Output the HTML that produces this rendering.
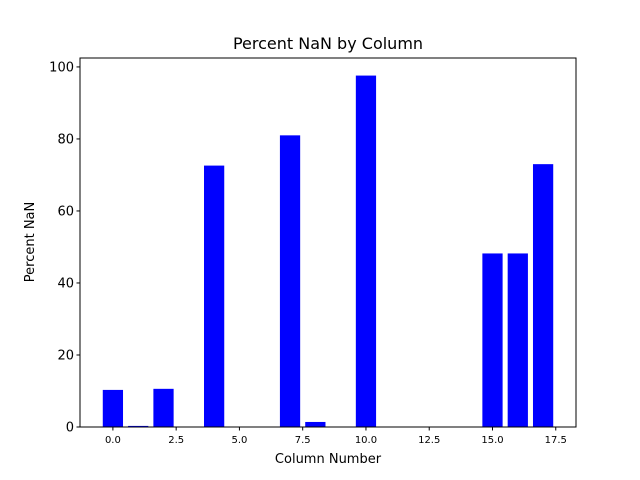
<!DOCTYPE html>
<html><head><meta charset="utf-8"><style>body{margin:0;background:#fff}svg{display:block;font-family:"DejaVu Sans","Liberation Sans",sans-serif}</style></head>
<body>
<svg id="chart" width="640" height="480">
<rect width="640" height="480" fill="#fff"/>
<g id="bars"></g><g id="axes"></g>
</svg>
<script>
const categories=[0,1,2,3,4,5,6,7,8,9,10,11,12,13,14,15,16,17];
const percentNaN=[10.3,0.3,10.6,0,72.6,0,0,81.0,1.4,0,97.6,0,0,0,0,48.2,48.2,73.0];
const xTicks=[0,2.5,5,7.5,10,12.5,15,17.5];
const xTickLabels=["0.0","2.5","5.0","7.5","10.0","12.5","15.0","17.5"];
const yTicks=[0,20,40,60,80,100];
const yTickLabels=["0","20","40","60","80","100"];
const L=80,R=576,T=58,B=427;
const xmin=-1.3,xmax=18.3,ymin=0,ymax=Math.max(...percentNaN)*1.05;
const xs=v=>L+(v-xmin)/(xmax-xmin)*(R-L);
const ys=v=>B-(v-ymin)/(ymax-ymin)*(B-T);
const NS="http://www.w3.org/2000/svg";
function mk(t,a,p){const e=document.createElementNS(NS,t);for(const k in a)e.setAttribute(k,a[k]);p.appendChild(e);return e;}
const bars=document.getElementById('bars'),ax=document.getElementById('axes');
categories.forEach((c,i)=>{const x0=xs(c-0.4),x1=xs(c+0.4),y=ys(percentNaN[i]);
const r=mk('rect',{x:x0,y:y,width:x1-x0,height:B-y,fill:'#0000ff'},bars);

});
const f=mk('rect',{x:L,y:T,width:R-L,height:B-T,fill:'none',stroke:'#000','stroke-width':1},ax);


xTicks.forEach((v,i)=>{const x=xs(v);mk('line',{x1:x,x2:x,y1:B,y2:B+3.5,stroke:'#000'},ax);
const t=mk('text',{x:x,y:B+16,'font-size':'10','text-anchor':'middle'},ax);t.textContent=xTickLabels[i];

});
yTicks.forEach((v,i)=>{const y=ys(v);mk('line',{x1:L-3.5,x2:L,y1:y,y2:y,stroke:'#000'},ax);
const t=mk('text',{x:L-6,y:y+4.5,'font-size':'13','text-anchor':'end'},ax);t.textContent=yTickLabels[i];

});
</script>
<svg style="position:absolute;left:0;top:0" width="640" height="480">
<text x="328" y="49" font-size="16" text-anchor="middle" font-family="DejaVu Sans,sans-serif">Percent NaN by Column</text>
<text x="328" y="463" font-size="13" text-anchor="middle" font-family="DejaVu Sans,sans-serif">Column Number</text>
<text x="34" y="242" font-size="13" text-anchor="middle" transform="rotate(-90 34 242)" font-family="DejaVu Sans,sans-serif">Percent NaN</text>
</svg>
</body></html>
